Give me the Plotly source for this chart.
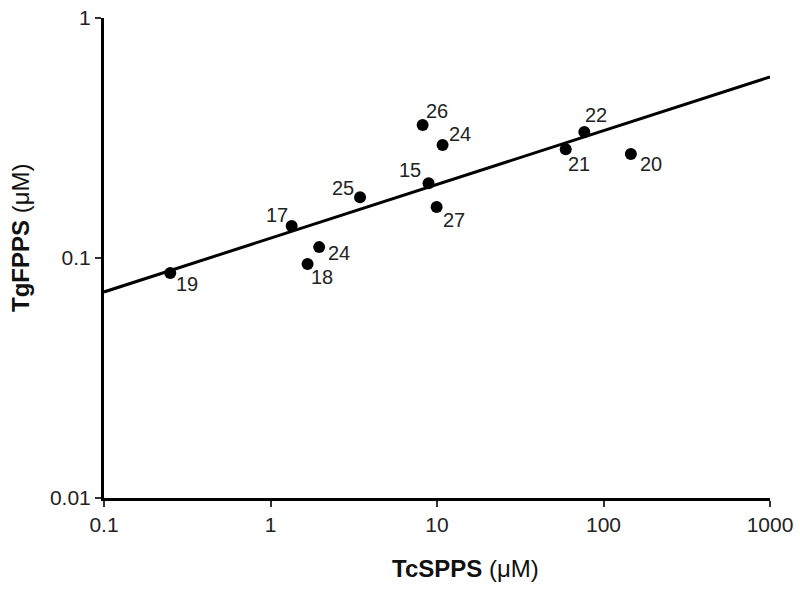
import math
import plotly.graph_objects as go

# Data
compounds = ["19", "17", "24", "18", "25", "15", "27", "26", "24", "22", "21", "20"]
tc_spps = [0.25, 1.34, 1.96, 1.67, 3.45, 8.9, 9.95, 8.2, 10.8, 76.7, 59.3, 146]
tg_fpps = [0.0866, 0.136, 0.111, 0.0944, 0.179, 0.205, 0.163, 0.358, 0.296, 0.335, 0.284, 0.271]

fit_x = [0.1, 1000]
fit_y = [0.0722, 0.568]

x_ticks = [0.1, 1, 10, 100, 1000]
y_ticks = [0.01, 0.1, 1]

x_title = "<b>TcSPPS</b> (μM)"
y_title = "<b>TgFPPS</b> (μM)"

# label offsets in pixels (dx right, dy down)
label_offsets = [(17, 11), (-15, -11), (20, 6), (14, 13), (-17, -9), (-19, -13),
                 (17, 13), (14, -14), (17, -11), (12, -17), (13, 15), (20, 10)]

FONT = "Liberation Sans, Arial, sans-serif"

fig = go.Figure()
fig.add_trace(go.Scatter(x=fit_x, y=fit_y, mode="lines",
                         line=dict(color="black", width=3), showlegend=False,
                         hoverinfo="skip"))
fig.add_trace(go.Scatter(x=tc_spps, y=tg_fpps, mode="markers",
                         marker=dict(color="black", size=12), showlegend=False))

for name, xv, yv, (dx, dy) in zip(compounds, tc_spps, tg_fpps, label_offsets):
    fig.add_annotation(x=math.log10(xv), y=math.log10(yv), xref="x", yref="y",
                       text=name, showarrow=False, xshift=dx, yshift=-dy,
                       font=dict(family=FONT, size=20, color="#222"))

# axis titles
fig.add_annotation(x=0.5435, y=0, xref="paper", yref="paper", text=x_title,
                   showarrow=False, yshift=-70, xanchor="center", yanchor="middle",
                   font=dict(family=FONT, size=24, color="#111"))
fig.add_annotation(x=0, y=0.5417, xref="paper", yref="paper", text=y_title,
                   showarrow=False, xshift=-83, textangle=-90,
                   xanchor="center", yanchor="middle",
                   font=dict(family=FONT, size=24, color="#111"))

fig.update_xaxes(type="log", range=[-1, 3], tickvals=x_ticks,
                 ticktext=[str(v) for v in x_ticks], ticklabeloverflow="allow",
                 automargin=False,
                 showgrid=False, zeroline=False, showline=True,
                 linecolor="black", linewidth=3, ticks="outside",
                 ticklen=6, tickwidth=1.5, tickcolor="#333",
                 tickfont=dict(family=FONT, size=21, color="#222"))
fig.update_yaxes(type="log", range=[-2, 0], tickvals=y_ticks,
                 ticktext=[str(v) for v in y_ticks], ticklabeloverflow="allow",
                 automargin=False,
                 showgrid=False, zeroline=False, showline=True,
                 linecolor="black", linewidth=3, ticks="outside",
                 ticklen=6, tickwidth=1.5, tickcolor="#333",
                 tickfont=dict(family=FONT, size=21, color="#222"))

fig.update_layout(width=800, height=589, plot_bgcolor="white", paper_bgcolor="white",
                  margin=dict(l=104, r=30, t=18, b=91))

fig.write_html("out.html", config={"displayModeBar": False},
               post_script="document.body.style.margin='0';document.body.style.overflow='hidden';")
